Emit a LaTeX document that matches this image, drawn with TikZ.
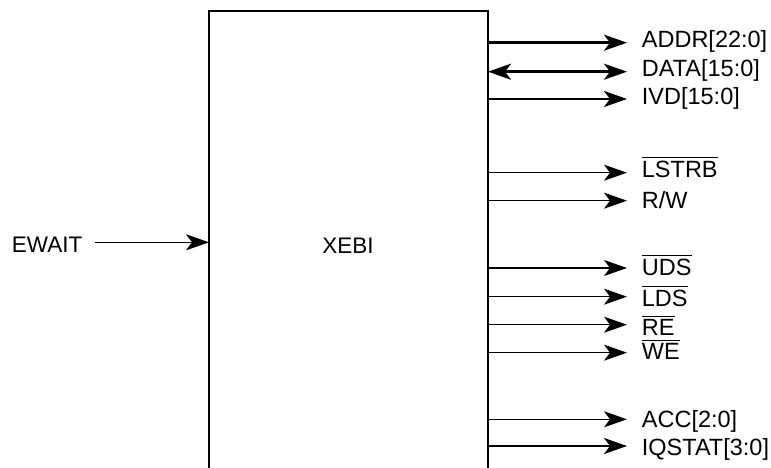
\documentclass[tikz,border=0pt]{standalone}
\usepackage{fontspec}
\setmainfont{Liberation Sans}
\usetikzlibrary{arrows.meta}
\newcommand{\ovl}[1]{\leavevmode\vbox{\hrule height 1pt\kern 3.2pt\hbox{#1}}}
\tikzset{
  tip/.style={Stealth[length=23bp,width=16bp,inset=6bp]},
  blk/.style={line width=1.6bp, line cap=rect},
  thin/.style={line width=1.3bp, -{Stealth[length=23bp,width=16bp,inset=6bp]}},
  bus/.style={line width=2.5bp, -{Stealth[length=23bp,width=16bp,inset=6bp]}},
  bibus/.style={line width=2.5bp, {Stealth[length=23bp,width=16bp,inset=6bp]}-{Stealth[length=23bp,width=16bp,inset=6bp]}},
  sig/.style={anchor=base west, inner sep=0pt, font=\fontsize{23.5bp}{27bp}\selectfont},
  lab/.style={inner sep=0pt, font=\fontsize{22.5bp}{26bp}\selectfont},
}
\begin{document}
\begin{tikzpicture}[x=1bp,y=-1bp]
\useasboundingbox (0,0) rectangle (771,468);
% block
\coordinate (bl) at (209,468);
\coordinate (tl) at (209,11);
\coordinate (tr) at (488,11);
\coordinate (br) at (488,468);
\draw[blk] (bl) -- (tl) -- (tr) -- (br);
\node[lab] (xebi) at (348,245.7) {XEBI};
% input
\node[lab, anchor=base west] (ewait) at (11.7,252.3) {EWAIT};
\coordinate (ews) at (95,242.3);
\coordinate (ewe) at (209,242.3);
\draw[thin] (ews) -- (ewe);
% outputs
\foreach \n/\y/\s in {addr/42.7/bus, data/71.7/bibus, ivd/99/bus, lstrb/172.7/thin, rw/200.7/thin,
  uds/268/thin, lds/296.7/thin, re/324.7/thin, we/352.7/thin, acc/419.3/thin, iq/446/bus}{
  \coordinate (\n s) at (488,\y);
  \coordinate (\n e) at (627,\y);
  \draw[\s] (\n s) -- (\n e);
}
\node[sig] (laddr) at (641.7,47.3) {ADDR[22:0]};
\node[sig] (ldata) at (641.7,76.7) {DATA[15:0]};
\node[sig] (livd) at (641.7,105) {IVD[15:0]};
\node[sig] (llstrb) at (641.7,177.3) {\ovl{LSTRB}};
\node[sig] (lrw) at (641.7,208.3) {R/W};
\node[sig] (luds) at (641.7,276) {\ovl{UDS}};
\node[sig] (llds) at (641.7,306.7) {\ovl{LDS}};
\node[sig] (lre) at (641.7,336) {\ovl{RE}};
\node[sig] (lwe) at (641.7,360) {\ovl{WE}};
\node[sig] (lacc) at (641.7,427.3) {ACC[2:0]};
\node[sig] (liq) at (641.7,455) {IQSTAT[3:0]};
\end{tikzpicture}
\end{document}
